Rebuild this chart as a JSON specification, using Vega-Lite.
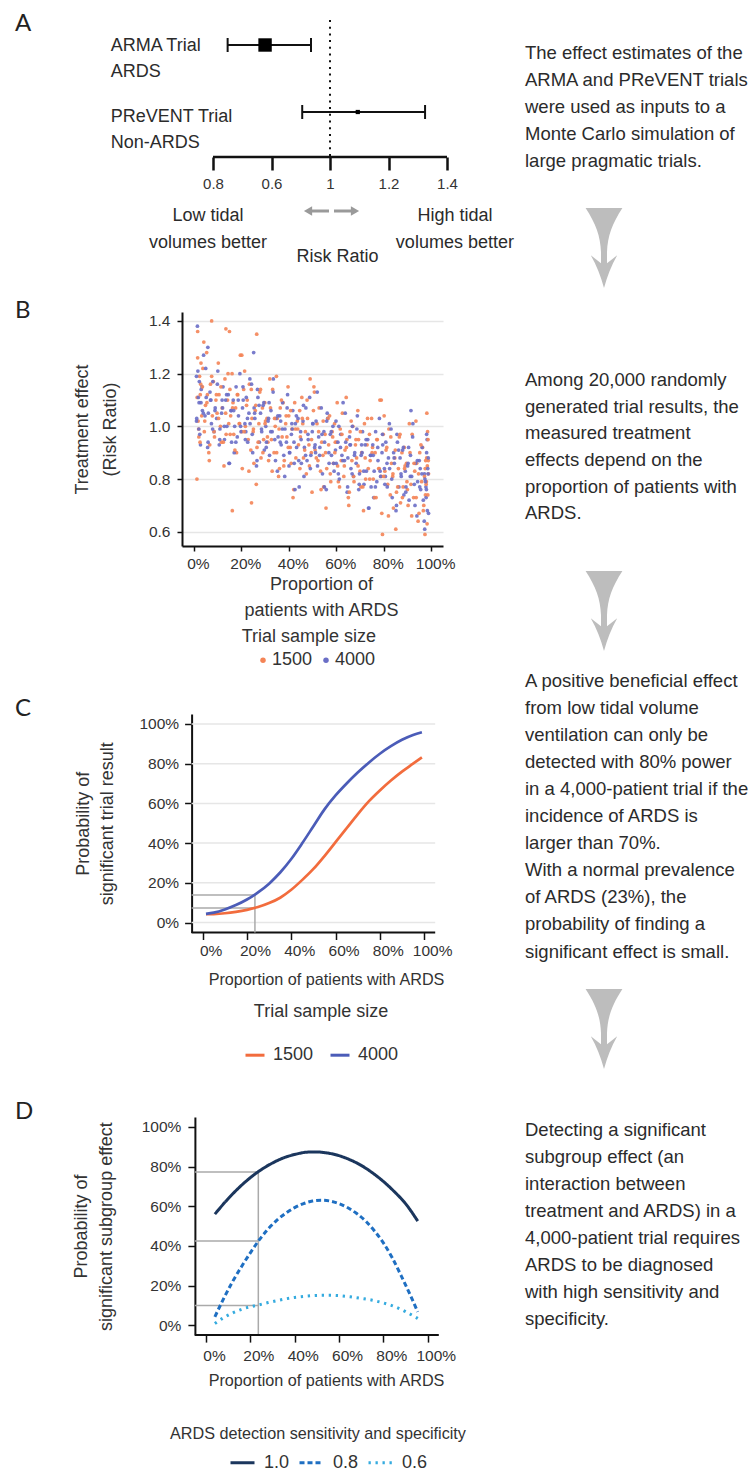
{
  "$schema": "https://vega.github.io/schema/vega-lite/v6.json",
  "background": "white",
  "padding": {"left": 14, "top": 0, "right": 0, "bottom": 0},
  "config": {
    "font": "Liberation Sans",
    "view": {"stroke": null},
    "axis": {"labelColor": "#333", "titleColor": "#333", "titleFontWeight": "normal", "domainColor": "#111", "tickColor": "#111", "labelFlush": false, "labelOverlap": false},
    "legend": {"labelColor": "#333", "titleColor": "#333", "titleFontWeight": "normal"}
  },
  "spacing": 0,
  "resolve": {"scale": {"color": "independent", "strokeDash": "independent"}, "legend": {"color": "independent", "strokeDash": "independent"}},
  "hconcat": [
    {
      "columns": 1,
      "align": "none",
      "spacing": 26,
      "resolve": {"scale": {"color": "independent", "strokeDash": "independent"}, "legend": {"color": "independent", "strokeDash": "independent"}},
      "concat": [
        {
          "columns": 1,
          "align": "none",
          "spacing": 32,
          "resolve": {"scale": {"color": "independent"}, "legend": {"color": "independent"}},
          "concat": [
            {
              "width": 265,
              "height": 157,
              "layer": [
                {
                  "data": {"values": [{}]},
                  "mark": {"type": "rule", "strokeDash": [2, 4.7], "strokeWidth": 2, "color": "#111"},
                  "encoding": {
                    "x": {"datum": 1, "type": "quantitative", "scale": {"domain": [0.494, 1.4], "nice": false, "zero": false},
                      "axis": {"values": [0.6, 0.8, 1, 1.2, 1.4], "labelExpr": "datum.value == 0.6 ? '0.8' : datum.value == 0.8 ? '0.6' : datum.value == 1 ? '1' : format(datum.value, '.1f')", "domain": false, "tickWidth": 2.5, "tickSize": 13, "labelFontSize": 15, "labelPadding": 6, "grid": false, "title": null}},
                    "y": {"datum": 20, "type": "quantitative", "scale": {"domain": [0, 157], "reverse": true, "nice": false, "zero": false}, "axis": null},
                    "y2": {"datum": 157}
                  }
                },
                {
                  "data": {"values": [{"a": 0.6, "b": 1.4, "row": 157}]},
                  "mark": {"type": "rule", "strokeWidth": 2.5, "color": "#111"},
                  "encoding": {
                    "x": {"field": "a", "type": "quantitative"},
                    "x2": {"field": "b"},
                    "y": {"field": "row", "type": "quantitative", "axis": null}
                  }
                },
                {
                  "data": {"name": "forest"},
                  "mark": {"type": "rule", "strokeWidth": 2, "color": "#111"},
                  "encoding": {
                    "x": {"field": "lo", "type": "quantitative"},
                    "x2": {"field": "hi"},
                    "y": {"field": "row", "type": "quantitative", "axis": null}
                  }
                },
                {
                  "data": {"name": "forest"},
                  "mark": {"type": "point", "shape": "M0,-1L0,1", "size": 196, "filled": false, "strokeWidth": 2, "color": "#111", "opacity": 1},
                  "encoding": {
                    "x": {"field": "lo", "type": "quantitative"},
                    "y": {"field": "row", "type": "quantitative", "axis": null}
                  }
                },
                {
                  "data": {"name": "forest"},
                  "mark": {"type": "point", "shape": "M0,-1L0,1", "size": 196, "filled": false, "strokeWidth": 2, "color": "#111", "opacity": 1},
                  "encoding": {
                    "x": {"field": "hi", "type": "quantitative"},
                    "y": {"field": "row", "type": "quantitative", "axis": null}
                  }
                },
                {
                  "data": {"name": "forest"},
                  "transform": [{"filter": "datum.trial == 'ARMA'"}],
                  "mark": {"type": "point", "shape": "square", "size": 180, "filled": true, "color": "#000", "opacity": 1},
                  "encoding": {
                    "x": {"field": "est", "type": "quantitative"},
                    "y": {"field": "row", "type": "quantitative", "axis": null}
                  }
                },
                {
                  "data": {"name": "forest"},
                  "transform": [{"filter": "datum.trial == 'PReVENT'"}],
                  "mark": {"type": "point", "shape": "square", "size": 18, "filled": true, "color": "#000", "opacity": 1},
                  "encoding": {
                    "x": {"field": "est", "type": "quantitative"},
                    "y": {"field": "row", "type": "quantitative", "axis": null}
                  }
                },
                {
                  "data": {"name": "rowlabs"},
                  "mark": {"type": "text", "align": "left", "baseline": "middle", "fontSize": 18, "color": "#2b2b2b"},
                  "encoding": {
                    "x": {"field": "x", "type": "quantitative"},
                    "y": {"field": "row", "type": "quantitative", "axis": null},
                    "text": {"field": "t"}
                  }
                },
                {
                  "data": {"name": "notesA"},
                  "mark": {"type": "text", "align": "center", "baseline": "middle", "fontSize": 18, "color": "#2b2b2b"},
                  "encoding": {
                    "x": {"field": "x", "type": "quantitative"},
                    "y": {"field": "row", "type": "quantitative", "axis": null},
                    "text": {"field": "t"}
                  }
                },
                {
                  "data": {"name": "arrA"},
                  "mark": {"type": "rule", "strokeWidth": 3, "color": "#9a9a9a"},
                  "encoding": {
                    "x": {"field": "a", "type": "quantitative"},
                    "x2": {"field": "b"},
                    "y": {"field": "row", "type": "quantitative", "axis": null}
                  }
                },
                {
                  "data": {"name": "arrA"},
                  "transform": [{"filter": "datum.d == 'l'"}],
                  "mark": {"type": "point", "shape": "triangle-left", "size": 90, "filled": true, "color": "#9a9a9a", "opacity": 1},
                  "encoding": {
                    "x": {"field": "h", "type": "quantitative"},
                    "y": {"field": "row", "type": "quantitative", "axis": null}
                  }
                },
                {
                  "data": {"name": "arrA"},
                  "transform": [{"filter": "datum.d == 'r'"}],
                  "mark": {"type": "point", "shape": "triangle-right", "size": 90, "filled": true, "color": "#9a9a9a", "opacity": 1},
                  "encoding": {
                    "x": {"field": "h", "type": "quantitative"},
                    "y": {"field": "row", "type": "quantitative", "axis": null}
                  }
                },
                {
                  "data": {"values": [{"t": "A"}]},
                  "mark": {"type": "text", "align": "left", "baseline": "middle", "fontSize": 24, "font": "Lato", "color": "#222"},
                  "encoding": {
                    "x": {"datum": -0.0769, "type": "quantitative"},
                    "y": {"datum": 23.5, "type": "quantitative", "axis": null},
                    "text": {"field": "t"}
                  }
                }
              ]
            },
            {
              "width": 261,
              "height": 234,
              "layer": [
                {
                  "data": {"name": "pts"},
                  "mark": {"type": "circle", "size": 14, "opacity": 0.9},
                  "encoding": {
                    "x": {"field": "p", "type": "quantitative", "scale": {"domain": [-5, 105], "nice": false, "zero": false},
                      "axis": {"values": [0, 20, 40, 60, 80, 100], "labelExpr": "datum.value + '%'", "domainWidth": 2, "tickSize": 5, "tickWidth": 1.5, "labelFontSize": 15.5, "labelPadding": 5, "labelOffset": 4, "grid": false, "title": ["Proportion of", "patients with ARDS"], "titleFontSize": 18, "titleLineHeight": 26.4, "titlePadding": 3.5, "titleX": 139}},
                    "y": {"field": "rr", "type": "quantitative", "scale": {"domain": [0.546, 1.434], "nice": false, "zero": false},
                      "axis": {"values": [0.6, 0.8, 1.0, 1.2, 1.4], "format": ".1f", "domainWidth": 2, "tickSize": 5, "tickWidth": 1.5, "labelFontSize": 15.5, "labelPadding": 7, "grid": true, "gridColor": "#e6e6e6", "gridWidth": 1.5, "title": ["Treatment effect", "(Risk Ratio)"], "titleFontSize": 18, "titleLineHeight": 27.5, "titlePadding": 29}},
                    "color": {"field": "n", "type": "nominal", "scale": {"domain": ["1500", "4000"], "range": ["#f48456", "#6a6ec6"]},
                      "legend": {"title": null, "orient": "none", "legendX": 72, "legendY": 339.3, "direction": "horizontal", "labelFontSize": 18, "symbolType": "circle", "symbolSize": 30, "symbolOpacity": 1, "labelOffset": 0, "columnPadding": 4}}
                  }
                },
                {
                  "data": {"values": [{"t": "B"}]},
                  "mark": {"type": "text", "align": "left", "baseline": "middle", "fontSize": 24, "font": "Lato", "color": "#222"},
                  "encoding": {
                    "x": {"datum": -75.4, "type": "quantitative"},
                    "y": {"datum": 1.4387, "type": "quantitative"},
                    "text": {"field": "t"}
                  }
                },
                {
                  "data": {"values": [{"t": "Trial sample size"}]},
                  "mark": {"type": "text", "align": "center", "baseline": "middle", "fontSize": 18, "color": "#333"},
                  "encoding": {
                    "x": {"datum": 48.5, "type": "quantitative"},
                    "y": {"datum": 0.2019, "type": "quantitative"},
                    "text": {"field": "t"}
                  }
                }
              ]
            }
          ]
        },
        {
          "columns": 1,
          "align": "none",
          "spacing": 34,
          "resolve": {"scale": {"color": "independent", "strokeDash": "independent"}, "legend": {"color": "independent", "strokeDash": "independent"}},
          "concat": [
            {
              "width": 253.2,
              "height": 218.5,
              "layer": [
                {
                  "data": {"name": "grid"},
                  "mark": {"type": "rule", "strokeWidth": 1.5, "color": "#e6e6e6"},
                  "encoding": {
                    "x": {"datum": -5, "type": "quantitative", "scale": {"domain": [-9.33, 105], "nice": false, "zero": false},
                      "axis": {"values": [0, 20, 40, 60, 80, 100], "labelExpr": "datum.value + '%'", "domain": false, "tickSize": 7, "tickWidth": 1.5, "labelFontSize": 15.5, "labelPadding": 4, "labelOffset": 8, "grid": false, "title": "Proportion of patients with ARDS", "titleFontSize": 16.2, "titlePadding": 12, "titleX": 144}},
                    "x2": {"datum": 105},
                    "y": {"field": "v", "type": "quantitative", "scale": {"domain": [-5, 105], "nice": false, "zero": false},
                      "axis": {"values": [0, 20, 40, 60, 80, 100], "labelExpr": "datum.value + '%'", "offset": -9.6, "domainWidth": 2, "tickSize": 7, "tickWidth": 1.5, "labelFontSize": 15.5, "labelPadding": 6, "grid": false, "title": ["Probability of", "significant trial result"], "titleFontSize": 18, "titleLineHeight": 24.5, "titlePadding": 22}}
                  }
                },
                {
                  "data": {"values": [{}]},
                  "mark": {"type": "rule", "strokeWidth": 2, "color": "#111"},
                  "encoding": {
                    "x": {"datum": -5, "type": "quantitative"},
                    "x2": {"datum": 105},
                    "y": {"datum": -5, "type": "quantitative"}
                  }
                },
                {
                  "data": {"name": "refC"},
                  "mark": {"type": "rule", "strokeWidth": 1.5, "color": "#aaaaaa"},
                  "encoding": {
                    "x": {"field": "x1", "type": "quantitative"},
                    "x2": {"field": "x2"},
                    "y": {"field": "y1", "type": "quantitative"},
                    "y2": {"field": "y2"}
                  }
                },
                {
                  "data": {"name": "power"},
                  "mark": {"type": "line", "strokeWidth": 2.7, "interpolate": "monotone"},
                  "encoding": {
                    "x": {"field": "p", "type": "quantitative"},
                    "y": {"field": "pw", "type": "quantitative"},
                    "color": {"field": "n", "type": "nominal", "scale": {"domain": ["1500", "4000"], "range": ["#f26c3d", "#4b5cb8"]},
                      "legend": {"title": "Trial sample size", "orient": "none", "legendX": 62, "legendY": 288.5, "direction": "horizontal", "titleAnchor": "middle", "titleFontSize": 18, "titlePadding": 23.7, "labelFontSize": 18, "symbolType": "stroke", "symbolSize": 361, "symbolStrokeWidth": 3, "labelOffset": 7, "columnPadding": 10}}
                  }
                },
                {
                  "data": {"values": [{"t": "C"}]},
                  "mark": {"type": "text", "align": "left", "baseline": "middle", "fontSize": 24, "font": "Lato", "color": "#222"},
                  "encoding": {
                    "x": {"datum": -84.7, "type": "quantitative"},
                    "y": {"datum": 107.65, "type": "quantitative"},
                    "text": {"field": "t"}
                  }
                }
              ]
            },
            {
              "width": 256.8,
              "height": 218.1,
              "layer": [
                {
                  "data": {"name": "refD"},
                  "mark": {"type": "rule", "strokeWidth": 1.5, "color": "#aaaaaa"},
                  "encoding": {
                    "x": {"field": "x1", "type": "quantitative", "scale": {"domain": [-10.82, 105], "nice": false, "zero": false},
                      "axis": {"values": [0, 20, 40, 60, 80, 100], "labelExpr": "datum.value + '%'", "domain": false, "tickSize": 7, "tickWidth": 1.5, "labelFontSize": 15.5, "labelPadding": 6, "labelOffset": 8, "grid": false, "title": "Proportion of patients with ARDS", "titleFontSize": 16.2, "titlePadding": 9, "titleX": 144}},
                    "x2": {"field": "x2"},
                    "y": {"field": "y1", "type": "quantitative", "scale": {"domain": [-5, 105], "nice": false, "zero": false},
                      "axis": {"values": [0, 20, 40, 60, 80, 100], "labelExpr": "datum.value + '%'", "offset": -12.9, "domainWidth": 2, "tickSize": 7, "tickWidth": 1.5, "labelFontSize": 15.5, "labelPadding": 7, "grid": false, "title": ["Probability of", "significant subgroup effect"], "titleFontSize": 18, "titleLineHeight": 25, "titlePadding": 25.5}},
                    "y2": {"field": "y2"}
                  }
                },
                {
                  "data": {"values": [{}]},
                  "mark": {"type": "rule", "strokeWidth": 2, "color": "#111"},
                  "encoding": {
                    "x": {"datum": -5, "type": "quantitative"},
                    "x2": {"datum": 105},
                    "y": {"datum": -5, "type": "quantitative"}
                  }
                },
                {
                  "data": {"name": "sub"},
                  "mark": {"type": "line", "strokeWidth": 3, "interpolate": "monotone"},
                  "encoding": {
                    "x": {"field": "p", "type": "quantitative"},
                    "y": {"field": "pw", "type": "quantitative"},
                    "color": {"field": "s", "type": "nominal", "scale": {"domain": ["1.0", "0.8", "0.6"], "range": ["#1b365d", "#1f6fc2", "#35abdf"]},
                      "legend": {"title": null, "orient": "none", "legendX": 47, "legendY": 332, "direction": "horizontal", "labelFontSize": 18, "symbolType": "stroke", "symbolSize": 576, "symbolStrokeWidth": 3, "labelOffset": 8, "columnPadding": 3}},
                    "strokeDash": {"field": "s", "type": "nominal", "scale": {"domain": ["1.0", "0.8", "0.6"], "range": [[1, 0], [5, 3], [2.3, 4.7]]},
                      "legend": {"title": null, "orient": "none", "legendX": 47, "legendY": 332, "direction": "horizontal", "labelFontSize": 18, "symbolType": "stroke", "symbolSize": 576, "symbolStrokeWidth": 3, "labelOffset": 8, "columnPadding": 3}}
                  }
                },
                {
                  "data": {"values": [{"t": "D"}]},
                  "mark": {"type": "text", "align": "left", "baseline": "middle", "fontSize": 24, "font": "Lato", "color": "#222"},
                  "encoding": {
                    "x": {"datum": -86.15, "type": "quantitative"},
                    "y": {"datum": 107.56, "type": "quantitative"},
                    "text": {"field": "t"}
                  }
                },
                {
                  "data": {"values": [{"t": "ARDS detection sensitivity and specificity"}]},
                  "mark": {"type": "text", "align": "center", "baseline": "middle", "fontSize": 16.2, "color": "#333"},
                  "encoding": {
                    "x": {"datum": 50.5, "type": "quantitative"},
                    "y": {"datum": -54.97, "type": "quantitative"},
                    "text": {"field": "t"}
                  }
                }
              ]
            }
          ]
        }
      ]
    },
    {
      "width": 240,
      "height": 1471,
      "layer": [
        {
          "data": {"name": "notes"},
          "mark": {"type": "text", "align": "left", "baseline": "middle", "fontSize": 18.5, "color": "#2b2b2b"},
          "encoding": {
            "x": {"datum": 11, "type": "quantitative", "scale": {"domain": [0, 240], "nice": false, "zero": false}, "axis": null},
            "y": {"field": "yy", "type": "quantitative", "scale": {"domain": [0, 1471], "reverse": true, "nice": false, "zero": false}, "axis": null},
            "text": {"field": "t"}
          }
        },
        {
          "data": {"name": "arrows"},
          "mark": {"type": "point", "shape": "M-0.46,-1L0.46,-1C0.2,-0.6 0.09,-0.3 0.075,0.1L0.075,0.38L0.33,0.18Q0.12,0.55 0,1Q-0.12,0.55 -0.33,0.18L-0.075,0.38L-0.075,0.1C-0.09,-0.3 -0.2,-0.6 -0.46,-1Z", "size": 6400, "filled": true, "color": "#bdbdbd", "opacity": 1, "strokeWidth": 0},
          "encoding": {
            "x": {"datum": 90, "type": "quantitative"},
            "y": {"field": "yy", "type": "quantitative"}
          }
        }
      ]
    }
  ],
  "datasets": {
    "forest": [
      {"trial": "ARMA", "lo": 0.65, "est": 0.778, "hi": 0.935, "row": 45},
      {"trial": "PReVENT", "lo": 0.905, "est": 1.095, "hi": 1.325, "row": 112}
    ],
    "rowlabs": [
      {"t": "ARMA Trial", "x": 0.25, "row": 46},
      {"t": "ARDS", "x": 0.25, "row": 72},
      {"t": "PReVENT Trial", "x": 0.25, "row": 117},
      {"t": "Non-ARDS", "x": 0.25, "row": 143}
    ],
    "notesA": [
      {"t": "Low tidal", "x": 0.583, "row": 216},
      {"t": "volumes better", "x": 0.583, "row": 242.5},
      {"t": "High tidal", "x": 1.427, "row": 216},
      {"t": "volumes better", "x": 1.427, "row": 242.5},
      {"t": "Risk Ratio", "x": 1.026, "row": 257}
    ],
    "arrA": [
      {"d": "l", "a": 0.9966, "b": 0.925, "h": 0.9248, "row": 211},
      {"d": "r", "a": 1.0137, "b": 1.085, "h": 1.0855, "row": 211}
    ],
    "grid": [{"v": 0}, {"v": 20}, {"v": 40}, {"v": 60}, {"v": 80}, {"v": 100}],
    "refC": [
      {"x1": -5, "x2": 23.6, "y1": 13.9, "y2": 13.9},
      {"x1": -5, "x2": 23.6, "y1": 7.3, "y2": 7.3},
      {"x1": 23.6, "x2": 23.6, "y1": -5, "y2": 13.9}
    ],
    "refD": [
      {"x1": -5, "x2": 23.6, "y1": 77.3, "y2": 77.3},
      {"x1": -5, "x2": 23.6, "y1": 42.5, "y2": 42.5},
      {"x1": -5, "x2": 23.6, "y1": 9.9, "y2": 9.9},
      {"x1": 23.6, "x2": 23.6, "y1": -5, "y2": 77.3}
    ],
    "power": [
      {"n": "1500", "p": 1.5, "pw": 4.2}, {"n": "1500", "p": 5, "pw": 4.3}, {"n": "1500", "p": 10, "pw": 4.7}, {"n": "1500", "p": 15, "pw": 5.4},
      {"n": "1500", "p": 20, "pw": 6.4}, {"n": "1500", "p": 25, "pw": 7.8}, {"n": "1500", "p": 30, "pw": 9.8}, {"n": "1500", "p": 35, "pw": 12.5},
      {"n": "1500", "p": 40, "pw": 16.5}, {"n": "1500", "p": 45, "pw": 21.5}, {"n": "1500", "p": 50, "pw": 27}, {"n": "1500", "p": 55, "pw": 33.5},
      {"n": "1500", "p": 60, "pw": 40.5}, {"n": "1500", "p": 65, "pw": 47.5}, {"n": "1500", "p": 70, "pw": 54.5}, {"n": "1500", "p": 75, "pw": 61},
      {"n": "1500", "p": 80, "pw": 66.5}, {"n": "1500", "p": 85, "pw": 71.5}, {"n": "1500", "p": 90, "pw": 76}, {"n": "1500", "p": 95, "pw": 80},
      {"n": "1500", "p": 99, "pw": 83.2},
      {"n": "4000", "p": 1.5, "pw": 4.4}, {"n": "4000", "p": 5, "pw": 5.0}, {"n": "4000", "p": 10, "pw": 6.6}, {"n": "4000", "p": 15, "pw": 8.8},
      {"n": "4000", "p": 20, "pw": 11.6}, {"n": "4000", "p": 25, "pw": 15.2}, {"n": "4000", "p": 30, "pw": 19.6}, {"n": "4000", "p": 35, "pw": 25.2},
      {"n": "4000", "p": 40, "pw": 32}, {"n": "4000", "p": 45, "pw": 40}, {"n": "4000", "p": 50, "pw": 48.5}, {"n": "4000", "p": 55, "pw": 57},
      {"n": "4000", "p": 60, "pw": 64}, {"n": "4000", "p": 65, "pw": 70}, {"n": "4000", "p": 70, "pw": 75.5}, {"n": "4000", "p": 75, "pw": 80.5},
      {"n": "4000", "p": 80, "pw": 85}, {"n": "4000", "p": 85, "pw": 88.8}, {"n": "4000", "p": 90, "pw": 92}, {"n": "4000", "p": 95, "pw": 94.4},
      {"n": "4000", "p": 99, "pw": 95.8}
    ],
    "sub": [
      {"s": "1.0", "p": 4, "pw": 56.0}, {"s": "1.0", "p": 10, "pw": 63.8}, {"s": "1.0", "p": 15, "pw": 69.5}, {"s": "1.0", "p": 20, "pw": 74.4},
      {"s": "1.0", "p": 25, "pw": 78.5}, {"s": "1.0", "p": 30, "pw": 81.8}, {"s": "1.0", "p": 35, "pw": 84.4}, {"s": "1.0", "p": 40, "pw": 86.1},
      {"s": "1.0", "p": 45, "pw": 87.2}, {"s": "1.0", "p": 49, "pw": 87.4}, {"s": "1.0", "p": 55, "pw": 86.8}, {"s": "1.0", "p": 60, "pw": 85.5},
      {"s": "1.0", "p": 65, "pw": 83.4}, {"s": "1.0", "p": 70, "pw": 80.6}, {"s": "1.0", "p": 75, "pw": 76.9}, {"s": "1.0", "p": 80, "pw": 72.5},
      {"s": "1.0", "p": 85, "pw": 67.3}, {"s": "1.0", "p": 90, "pw": 61.3}, {"s": "1.0", "p": 95.5, "pw": 52.5},
      {"s": "0.8", "p": 4, "pw": 4.2}, {"s": "0.8", "p": 8, "pw": 13.5}, {"s": "0.8", "p": 12, "pw": 22}, {"s": "0.8", "p": 16, "pw": 29.5},
      {"s": "0.8", "p": 20, "pw": 36.5}, {"s": "0.8", "p": 24, "pw": 43}, {"s": "0.8", "p": 28, "pw": 48.5}, {"s": "0.8", "p": 32, "pw": 53},
      {"s": "0.8", "p": 36, "pw": 56.5}, {"s": "0.8", "p": 40, "pw": 59.3}, {"s": "0.8", "p": 44, "pw": 61.3}, {"s": "0.8", "p": 48, "pw": 62.6},
      {"s": "0.8", "p": 52, "pw": 63}, {"s": "0.8", "p": 56, "pw": 62.6}, {"s": "0.8", "p": 60, "pw": 61.3}, {"s": "0.8", "p": 64, "pw": 59.2},
      {"s": "0.8", "p": 68, "pw": 56.3}, {"s": "0.8", "p": 72, "pw": 52.5}, {"s": "0.8", "p": 76, "pw": 47.5}, {"s": "0.8", "p": 80, "pw": 41.5},
      {"s": "0.8", "p": 84, "pw": 34}, {"s": "0.8", "p": 88, "pw": 25}, {"s": "0.8", "p": 92, "pw": 15.5}, {"s": "0.8", "p": 95.5, "pw": 6.7},
      {"s": "0.6", "p": 4, "pw": 0.8}, {"s": "0.6", "p": 8, "pw": 3.8}, {"s": "0.6", "p": 12, "pw": 6.2}, {"s": "0.6", "p": 16, "pw": 8.0},
      {"s": "0.6", "p": 20, "pw": 9.3}, {"s": "0.6", "p": 24, "pw": 10.3}, {"s": "0.6", "p": 28, "pw": 11.4}, {"s": "0.6", "p": 32, "pw": 12.4},
      {"s": "0.6", "p": 36, "pw": 13.3}, {"s": "0.6", "p": 40, "pw": 14.0}, {"s": "0.6", "p": 45, "pw": 14.6}, {"s": "0.6", "p": 50, "pw": 15.0},
      {"s": "0.6", "p": 55, "pw": 15.1}, {"s": "0.6", "p": 60, "pw": 14.9}, {"s": "0.6", "p": 65, "pw": 14.3}, {"s": "0.6", "p": 70, "pw": 13.5},
      {"s": "0.6", "p": 75, "pw": 12.6}, {"s": "0.6", "p": 80, "pw": 11.2}, {"s": "0.6", "p": 85, "pw": 9.4}, {"s": "0.6", "p": 90, "pw": 6.8},
      {"s": "0.6", "p": 95.5, "pw": 3.4}
    ],
    "notes": [
      {"t": "The effect estimates of the", "yy": 53},
      {"t": "ARMA and PReVENT trials", "yy": 80},
      {"t": "were used as inputs to a", "yy": 107},
      {"t": "Monte Carlo simulation of", "yy": 134},
      {"t": "large pragmatic trials.", "yy": 161},
      {"t": "Among 20,000 randomly", "yy": 380},
      {"t": "generated trial results, the", "yy": 407},
      {"t": "measured treatment", "yy": 433},
      {"t": "effects depend on the", "yy": 460},
      {"t": "proportion of patients with", "yy": 487},
      {"t": "ARDS.", "yy": 513},
      {"t": "A positive beneficial effect", "yy": 681},
      {"t": "from low tidal volume", "yy": 708},
      {"t": "ventilation can only be", "yy": 735},
      {"t": "detected with 80% power", "yy": 762},
      {"t": "in a 4,000-patient trial if the", "yy": 789},
      {"t": "incidence of ARDS is", "yy": 816},
      {"t": "larger than 70%.", "yy": 843},
      {"t": "With a normal prevalence", "yy": 870},
      {"t": "of ARDS (23%), the", "yy": 897},
      {"t": "probability of finding a", "yy": 924},
      {"t": "significant effect is small.", "yy": 952},
      {"t": "Detecting a significant", "yy": 1130},
      {"t": "subgroup effect (an", "yy": 1157},
      {"t": "interaction between", "yy": 1184},
      {"t": "treatment and ARDS) in a", "yy": 1211},
      {"t": "4,000-patient trial requires", "yy": 1238},
      {"t": "ARDS to be diagnosed", "yy": 1265},
      {"t": "with high sensitivity and", "yy": 1292},
      {"t": "specificity.", "yy": 1319}
    ],
    "arrows": [
      {"yy": 248},
      {"yy": 611},
      {"yy": 1029}
    ],
    "pts": [
      {"n":"1500","p":1.4,"rr":1.11},{"n":"1500","p":2.1,"rr":0.96},{"n":"1500","p":2.9,"rr":1.16},{"n":"1500","p":3.3,"rr":1.04},{"n":"1500","p":3.8,"rr":1.22},
      {"n":"1500","p":4.4,"rr":0.98},{"n":"1500","p":4.9,"rr":1.08},{"n":"1500","p":5.4,"rr":1.28},{"n":"1500","p":1.8,"rr":1.02},{"n":"1500","p":5.7,"rr":1.12},
      {"n":"4000","p":1.2,"rr":1.03},{"n":"4000","p":1.9,"rr":1.11},{"n":"4000","p":2.5,"rr":0.97},{"n":"4000","p":3.1,"rr":1.14},{"n":"4000","p":3.6,"rr":1.06},
      {"n":"4000","p":4.1,"rr":1.27},{"n":"4000","p":4.7,"rr":1.04},{"n":"4000","p":5.2,"rr":1.11},{"n":"4000","p":5.8,"rr":0.92},{"n":"4000","p":2.3,"rr":1.17},
      {"n":"1500","p":6.3,"rr":0.90},{"n":"1500","p":7.0,"rr":1.16},{"n":"1500","p":7.8,"rr":1.04},{"n":"1500","p":8.2,"rr":1.17},{"n":"1500","p":8.7,"rr":0.96},
      {"n":"1500","p":9.3,"rr":1.10},{"n":"1500","p":9.8,"rr":1.05},{"n":"1500","p":10.3,"rr":1.24},{"n":"1500","p":6.7,"rr":0.93},{"n":"1500","p":10.6,"rr":1.12},
      {"n":"4000","p":6.1,"rr":1.05},{"n":"4000","p":6.8,"rr":1.13},{"n":"4000","p":7.4,"rr":1.01},{"n":"4000","p":8.0,"rr":1.17},{"n":"4000","p":8.5,"rr":0.98},
      {"n":"4000","p":9.0,"rr":1.07},{"n":"4000","p":9.6,"rr":1.03},{"n":"4000","p":10.1,"rr":1.21},{"n":"4000","p":10.7,"rr":0.93},{"n":"4000","p":7.2,"rr":1.10},
      {"n":"1500","p":11.2,"rr":1.00},{"n":"1500","p":11.9,"rr":1.07},{"n":"1500","p":12.7,"rr":0.85},{"n":"1500","p":13.1,"rr":1.18},{"n":"1500","p":13.6,"rr":0.97},
      {"n":"1500","p":14.2,"rr":1.10},{"n":"1500","p":14.7,"rr":1.01},{"n":"1500","p":15.2,"rr":1.14},{"n":"1500","p":11.6,"rr":0.94},{"n":"1500","p":15.5,"rr":1.04},
      {"n":"4000","p":11.0,"rr":0.99},{"n":"4000","p":11.7,"rr":1.05},{"n":"4000","p":12.3,"rr":1.15},{"n":"4000","p":12.9,"rr":0.95},{"n":"4000","p":13.4,"rr":1.10},
      {"n":"4000","p":13.9,"rr":1.00},{"n":"4000","p":14.5,"rr":1.12},{"n":"4000","p":15.0,"rr":0.86},{"n":"4000","p":15.6,"rr":1.06},{"n":"4000","p":12.1,"rr":1.07},
      {"n":"1500","p":16.1,"rr":1.20},{"n":"1500","p":16.8,"rr":0.97},{"n":"1500","p":17.6,"rr":1.07},{"n":"1500","p":18.0,"rr":0.90},{"n":"1500","p":18.5,"rr":1.12},
      {"n":"1500","p":19.1,"rr":1.01},{"n":"1500","p":19.6,"rr":1.27},{"n":"1500","p":20.1,"rr":0.98},{"n":"1500","p":16.5,"rr":1.09},{"n":"1500","p":20.4,"rr":0.84},
      {"n":"4000","p":15.9,"rr":0.94},{"n":"4000","p":16.6,"rr":1.10},{"n":"4000","p":17.2,"rr":1.00},{"n":"4000","p":17.8,"rr":1.15},{"n":"4000","p":18.3,"rr":0.96},
      {"n":"4000","p":18.8,"rr":1.04},{"n":"4000","p":19.4,"rr":1.20},{"n":"4000","p":19.9,"rr":0.98},{"n":"4000","p":20.5,"rr":1.07},{"n":"4000","p":17.0,"rr":0.90},
      {"n":"1500","p":21.0,"rr":1.14},{"n":"1500","p":21.7,"rr":1.00},{"n":"1500","p":22.5,"rr":1.10},{"n":"1500","p":22.9,"rr":0.95},{"n":"1500","p":23.4,"rr":1.16},
      {"n":"1500","p":24.0,"rr":0.91},{"n":"1500","p":24.5,"rr":1.03},{"n":"1500","p":25.0,"rr":0.98},{"n":"1500","p":21.4,"rr":1.21},{"n":"1500","p":25.3,"rr":0.86},
      {"n":"4000","p":20.8,"rr":1.10},{"n":"4000","p":21.5,"rr":1.01},{"n":"4000","p":22.1,"rr":1.11},{"n":"4000","p":22.7,"rr":0.94},{"n":"4000","p":23.2,"rr":1.05},
      {"n":"4000","p":23.7,"rr":1.01},{"n":"4000","p":24.3,"rr":1.16},{"n":"4000","p":24.8,"rr":0.90},{"n":"4000","p":25.4,"rr":1.07},{"n":"4000","p":21.9,"rr":0.98},
      {"n":"1500","p":25.9,"rr":1.06},{"n":"1500","p":26.6,"rr":0.92},{"n":"1500","p":27.4,"rr":1.01},{"n":"1500","p":27.8,"rr":1.13},{"n":"1500","p":28.3,"rr":0.88},
      {"n":"1500","p":28.9,"rr":1.07},{"n":"1500","p":29.4,"rr":0.95},{"n":"1500","p":29.9,"rr":1.09},{"n":"1500","p":26.3,"rr":0.78},{"n":"1500","p":30.2,"rr":1.02},
      {"n":"4000","p":25.7,"rr":1.03},{"n":"4000","p":26.4,"rr":0.85},{"n":"4000","p":27.0,"rr":1.11},{"n":"4000","p":27.6,"rr":0.94},{"n":"4000","p":28.1,"rr":1.05},
      {"n":"4000","p":28.6,"rr":0.98},{"n":"4000","p":29.2,"rr":1.08},{"n":"4000","p":29.7,"rr":0.91},{"n":"4000","p":30.3,"rr":1.00},{"n":"4000","p":26.8,"rr":1.14},
      {"n":"1500","p":30.8,"rr":1.03},{"n":"1500","p":31.5,"rr":0.87},{"n":"1500","p":32.3,"rr":1.07},{"n":"1500","p":32.7,"rr":0.95},{"n":"1500","p":33.2,"rr":1.14},
      {"n":"1500","p":33.8,"rr":0.90},{"n":"1500","p":34.3,"rr":1.00},{"n":"1500","p":34.8,"rr":1.19},{"n":"1500","p":31.2,"rr":0.94},{"n":"1500","p":35.1,"rr":1.03},
      {"n":"4000","p":30.6,"rr":0.94},{"n":"4000","p":31.3,"rr":1.02},{"n":"4000","p":31.9,"rr":0.89},{"n":"4000","p":32.5,"rr":1.06},{"n":"4000","p":33.0,"rr":0.98},
      {"n":"4000","p":33.5,"rr":1.18},{"n":"4000","p":34.1,"rr":0.95},{"n":"4000","p":34.6,"rr":1.03},{"n":"4000","p":35.2,"rr":0.83},{"n":"4000","p":31.7,"rr":1.09},
      {"n":"1500","p":35.7,"rr":0.81},{"n":"1500","p":36.4,"rr":1.07},{"n":"1500","p":37.2,"rr":0.96},{"n":"1500","p":37.6,"rr":1.09},{"n":"1500","p":38.1,"rr":0.87},
      {"n":"1500","p":38.7,"rr":1.01},{"n":"1500","p":39.2,"rr":0.96},{"n":"1500","p":39.7,"rr":1.15},{"n":"1500","p":36.1,"rr":0.84},{"n":"1500","p":40.0,"rr":1.04},
      {"n":"4000","p":35.5,"rr":0.96},{"n":"4000","p":36.2,"rr":1.04},{"n":"4000","p":36.8,"rr":0.93},{"n":"4000","p":37.4,"rr":1.09},{"n":"4000","p":37.9,"rr":0.89},
      {"n":"4000","p":38.4,"rr":0.99},{"n":"4000","p":39.0,"rr":0.94},{"n":"4000","p":39.5,"rr":1.12},{"n":"4000","p":40.1,"rr":0.85},{"n":"4000","p":36.6,"rr":1.02},
      {"n":"1500","p":40.6,"rr":0.92},{"n":"1500","p":41.3,"rr":0.99},{"n":"1500","p":42.1,"rr":0.76},{"n":"1500","p":42.5,"rr":1.09},{"n":"1500","p":43.0,"rr":0.88},
      {"n":"1500","p":43.6,"rr":1.02},{"n":"1500","p":44.1,"rr":0.93},{"n":"1500","p":44.6,"rr":1.06},{"n":"1500","p":41.0,"rr":0.86},{"n":"1500","p":44.9,"rr":0.96},
      {"n":"4000","p":40.4,"rr":0.90},{"n":"4000","p":41.1,"rr":0.97},{"n":"4000","p":41.7,"rr":1.06},{"n":"4000","p":42.3,"rr":0.86},{"n":"4000","p":42.8,"rr":1.01},
      {"n":"4000","p":43.3,"rr":0.92},{"n":"4000","p":43.9,"rr":1.03},{"n":"4000","p":44.4,"rr":0.77},{"n":"4000","p":45.0,"rr":0.98},{"n":"4000","p":41.5,"rr":0.99},
      {"n":"1500","p":45.5,"rr":1.11},{"n":"1500","p":46.2,"rr":0.88},{"n":"1500","p":47.0,"rr":0.98},{"n":"1500","p":47.4,"rr":0.82},{"n":"1500","p":47.9,"rr":1.03},
      {"n":"1500","p":48.5,"rr":0.93},{"n":"1500","p":49.0,"rr":1.18},{"n":"1500","p":49.5,"rr":0.90},{"n":"1500","p":45.9,"rr":1.01},{"n":"1500","p":49.8,"rr":0.75},
      {"n":"4000","p":45.3,"rr":0.86},{"n":"4000","p":46.0,"rr":1.02},{"n":"4000","p":46.6,"rr":0.92},{"n":"4000","p":47.2,"rr":1.07},{"n":"4000","p":47.7,"rr":0.87},
      {"n":"4000","p":48.2,"rr":0.95},{"n":"4000","p":48.8,"rr":1.11},{"n":"4000","p":49.3,"rr":0.89},{"n":"4000","p":49.9,"rr":0.98},{"n":"4000","p":46.4,"rr":0.81},
      {"n":"1500","p":50.4,"rr":1.06},{"n":"1500","p":51.1,"rr":0.91},{"n":"1500","p":51.9,"rr":1.01},{"n":"1500","p":52.3,"rr":0.87},{"n":"1500","p":52.8,"rr":1.07},
      {"n":"1500","p":53.4,"rr":0.83},{"n":"1500","p":53.9,"rr":0.94},{"n":"1500","p":54.4,"rr":0.89},{"n":"1500","p":50.8,"rr":1.13},{"n":"1500","p":54.7,"rr":0.77},
      {"n":"4000","p":50.2,"rr":1.01},{"n":"4000","p":50.9,"rr":0.92},{"n":"4000","p":51.5,"rr":1.02},{"n":"4000","p":52.1,"rr":0.85},{"n":"4000","p":52.6,"rr":0.96},
      {"n":"4000","p":53.1,"rr":0.92},{"n":"4000","p":53.7,"rr":1.07},{"n":"4000","p":54.2,"rr":0.82},{"n":"4000","p":54.8,"rr":0.98},{"n":"4000","p":51.3,"rr":0.90},
      {"n":"1500","p":55.3,"rr":0.97},{"n":"1500","p":56.0,"rr":0.84},{"n":"1500","p":56.8,"rr":0.93},{"n":"1500","p":57.2,"rr":1.04},{"n":"1500","p":57.7,"rr":0.79},
      {"n":"1500","p":58.3,"rr":0.98},{"n":"1500","p":58.8,"rr":0.86},{"n":"1500","p":59.3,"rr":1.01},{"n":"1500","p":55.7,"rr":0.69},{"n":"1500","p":59.6,"rr":0.94},
      {"n":"4000","p":55.1,"rr":0.94},{"n":"4000","p":55.8,"rr":0.76},{"n":"4000","p":56.4,"rr":1.03},{"n":"4000","p":57.0,"rr":0.86},{"n":"4000","p":57.5,"rr":0.97},
      {"n":"4000","p":58.0,"rr":0.89},{"n":"4000","p":58.6,"rr":1.00},{"n":"4000","p":59.1,"rr":0.83},{"n":"4000","p":59.7,"rr":0.91},{"n":"4000","p":56.2,"rr":1.05},
      {"n":"1500","p":60.2,"rr":0.94},{"n":"1500","p":60.9,"rr":0.79},{"n":"1500","p":61.7,"rr":0.99},{"n":"1500","p":62.1,"rr":0.87},{"n":"1500","p":62.6,"rr":1.05},
      {"n":"1500","p":63.2,"rr":0.81},{"n":"1500","p":63.7,"rr":0.91},{"n":"1500","p":64.2,"rr":1.11},{"n":"1500","p":60.6,"rr":0.85},{"n":"1500","p":64.5,"rr":0.95},
      {"n":"4000","p":60.0,"rr":0.86},{"n":"4000","p":60.7,"rr":0.94},{"n":"4000","p":61.3,"rr":0.80},{"n":"4000","p":61.9,"rr":0.97},{"n":"4000","p":62.4,"rr":0.89},
      {"n":"4000","p":62.9,"rr":1.09},{"n":"4000","p":63.5,"rr":0.87},{"n":"4000","p":64.0,"rr":0.94},{"n":"4000","p":64.6,"rr":0.75},{"n":"4000","p":61.1,"rr":1.00},
      {"n":"1500","p":65.1,"rr":0.73},{"n":"1500","p":65.8,"rr":0.98},{"n":"1500","p":66.6,"rr":0.87},{"n":"1500","p":67.0,"rr":1.00},{"n":"1500","p":67.5,"rr":0.79},
      {"n":"1500","p":68.1,"rr":0.93},{"n":"1500","p":68.6,"rr":0.88},{"n":"1500","p":69.1,"rr":1.06},{"n":"1500","p":65.5,"rr":0.75},{"n":"1500","p":69.4,"rr":0.95},
      {"n":"4000","p":64.9,"rr":0.88},{"n":"4000","p":65.6,"rr":0.96},{"n":"4000","p":66.2,"rr":0.84},{"n":"4000","p":66.8,"rr":1.00},{"n":"4000","p":67.3,"rr":0.81},
      {"n":"4000","p":67.8,"rr":0.90},{"n":"4000","p":68.4,"rr":0.86},{"n":"4000","p":68.9,"rr":1.04},{"n":"4000","p":69.5,"rr":0.76},{"n":"4000","p":66.0,"rr":0.93},
      {"n":"1500","p":70.0,"rr":0.83},{"n":"1500","p":70.7,"rr":0.90},{"n":"1500","p":71.5,"rr":0.68},{"n":"1500","p":71.9,"rr":1.01},{"n":"1500","p":72.4,"rr":0.80},
      {"n":"1500","p":73.0,"rr":0.93},{"n":"1500","p":73.5,"rr":0.84},{"n":"1500","p":74.0,"rr":0.97},{"n":"1500","p":70.4,"rr":0.77},{"n":"1500","p":74.3,"rr":0.87},
      {"n":"4000","p":69.8,"rr":0.82},{"n":"4000","p":70.5,"rr":0.89},{"n":"4000","p":71.1,"rr":0.98},{"n":"4000","p":71.7,"rr":0.78},{"n":"4000","p":72.2,"rr":0.93},
      {"n":"4000","p":72.7,"rr":0.83},{"n":"4000","p":73.3,"rr":0.95},{"n":"4000","p":73.8,"rr":0.69},{"n":"4000","p":74.4,"rr":0.89},{"n":"4000","p":70.9,"rr":0.90},
      {"n":"1500","p":74.9,"rr":1.03},{"n":"1500","p":75.6,"rr":0.80},{"n":"1500","p":76.4,"rr":0.90},{"n":"1500","p":76.8,"rr":0.73},{"n":"1500","p":77.3,"rr":0.95},
      {"n":"1500","p":77.9,"rr":0.84},{"n":"1500","p":78.4,"rr":1.10},{"n":"1500","p":78.9,"rr":0.81},{"n":"1500","p":75.3,"rr":0.92},{"n":"1500","p":79.2,"rr":0.67},
      {"n":"4000","p":74.7,"rr":0.77},{"n":"4000","p":75.4,"rr":0.93},{"n":"4000","p":76.0,"rr":0.83},{"n":"4000","p":76.6,"rr":0.98},{"n":"4000","p":77.1,"rr":0.79},
      {"n":"4000","p":77.6,"rr":0.87},{"n":"4000","p":78.2,"rr":1.03},{"n":"4000","p":78.7,"rr":0.81},{"n":"4000","p":79.3,"rr":0.90},{"n":"4000","p":75.8,"rr":0.73},
      {"n":"1500","p":79.8,"rr":0.97},{"n":"1500","p":80.5,"rr":0.83},{"n":"1500","p":81.3,"rr":0.92},{"n":"1500","p":81.7,"rr":0.78},{"n":"1500","p":82.2,"rr":0.99},
      {"n":"1500","p":82.8,"rr":0.74},{"n":"1500","p":83.3,"rr":0.86},{"n":"1500","p":83.8,"rr":0.81},{"n":"1500","p":80.2,"rr":1.04},{"n":"1500","p":84.1,"rr":0.69},
      {"n":"4000","p":79.6,"rr":0.93},{"n":"4000","p":80.3,"rr":0.84},{"n":"4000","p":80.9,"rr":0.94},{"n":"4000","p":81.5,"rr":0.77},{"n":"4000","p":82.0,"rr":0.88},
      {"n":"4000","p":82.5,"rr":0.84},{"n":"4000","p":83.1,"rr":0.99},{"n":"4000","p":83.6,"rr":0.73},{"n":"4000","p":84.2,"rr":0.90},{"n":"4000","p":80.7,"rr":0.81},
      {"n":"1500","p":84.7,"rr":0.88},{"n":"1500","p":85.4,"rr":0.75},{"n":"1500","p":86.2,"rr":0.84},{"n":"1500","p":86.6,"rr":0.96},{"n":"1500","p":87.1,"rr":0.71},
      {"n":"1500","p":87.7,"rr":0.90},{"n":"1500","p":88.2,"rr":0.77},{"n":"1500","p":88.7,"rr":0.92},{"n":"1500","p":85.1,"rr":0.61},{"n":"1500","p":89.0,"rr":0.85},
      {"n":"4000","p":84.5,"rr":0.86},{"n":"4000","p":85.2,"rr":0.68},{"n":"4000","p":85.8,"rr":0.94},{"n":"4000","p":86.4,"rr":0.77},{"n":"4000","p":86.9,"rr":0.88},
      {"n":"4000","p":87.4,"rr":0.81},{"n":"4000","p":88.0,"rr":0.91},{"n":"4000","p":88.5,"rr":0.74},{"n":"4000","p":89.1,"rr":0.83},{"n":"4000","p":85.6,"rr":0.97},
      {"n":"1500","p":89.6,"rr":0.86},{"n":"1500","p":90.3,"rr":0.70},{"n":"1500","p":91.1,"rr":0.90},{"n":"1500","p":91.5,"rr":0.78},{"n":"1500","p":92.0,"rr":0.97},
      {"n":"1500","p":92.6,"rr":0.73},{"n":"1500","p":93.1,"rr":0.83},{"n":"1500","p":93.6,"rr":1.02},{"n":"1500","p":90.0,"rr":0.76},{"n":"1500","p":93.9,"rr":0.86},
      {"n":"4000","p":89.4,"rr":0.77},{"n":"4000","p":90.1,"rr":0.85},{"n":"4000","p":90.7,"rr":0.72},{"n":"4000","p":91.3,"rr":0.89},{"n":"4000","p":91.8,"rr":0.81},
      {"n":"4000","p":92.3,"rr":1.01},{"n":"4000","p":92.9,"rr":0.78},{"n":"4000","p":93.4,"rr":0.86},{"n":"4000","p":94.0,"rr":0.66},{"n":"4000","p":90.5,"rr":0.92},
      {"n":"1500","p":94.5,"rr":0.64},{"n":"1500","p":95.2,"rr":0.90},{"n":"1500","p":96.0,"rr":0.79},{"n":"1500","p":96.4,"rr":0.92},{"n":"1500","p":96.9,"rr":0.70},
      {"n":"1500","p":97.5,"rr":0.84},{"n":"1500","p":98.0,"rr":0.79},{"n":"1500","p":98.5,"rr":0.98},{"n":"1500","p":94.9,"rr":0.67},{"n":"1500","p":98.8,"rr":0.87},
      {"n":"4000","p":94.3,"rr":0.79},{"n":"4000","p":95.0,"rr":0.87},{"n":"4000","p":95.6,"rr":0.76},{"n":"4000","p":96.2,"rr":0.92},{"n":"4000","p":96.7,"rr":0.72},
      {"n":"4000","p":97.2,"rr":0.82},{"n":"4000","p":97.8,"rr":0.77},{"n":"4000","p":98.3,"rr":0.95},{"n":"4000","p":98.9,"rr":0.67},{"n":"4000","p":95.4,"rr":0.84},
      {"n":"1500","p":97.2,"rr":0.81},{"n":"1500","p":97.6,"rr":0.74},{"n":"1500","p":98.1,"rr":0.88},{"n":"1500","p":98.3,"rr":0.63},{"n":"1500","p":98.7,"rr":0.95},
      {"n":"1500","p":97.9,"rr":0.78},{"n":"1500","p":98.4,"rr":0.85},{"n":"1500","p":98.2,"rr":1.05},{"n":"1500","p":97.4,"rr":0.59},{"n":"1500","p":98.9,"rr":0.82},
      {"n":"4000","p":97.4,"rr":0.80},{"n":"4000","p":97.9,"rr":0.73},{"n":"4000","p":98.6,"rr":0.84},{"n":"4000","p":98.1,"rr":0.97},{"n":"4000","p":97.6,"rr":0.79},
      {"n":"4000","p":98.4,"rr":0.68},{"n":"4000","p":98.8,"rr":0.88},{"n":"4000","p":97.3,"rr":0.61},{"n":"4000","p":98.0,"rr":0.76},{"n":"4000","p":98.7,"rr":0.82},
      {"n":"1500","p":1.6,"rr":1.36},{"n":"1500","p":2.4,"rr":1.19},{"n":"1500","p":2.0,"rr":0.99},{"n":"1500","p":3.0,"rr":1.24},{"n":"1500","p":1.3,"rr":0.80},
      {"n":"1500","p":2.7,"rr":1.12},{"n":"1500","p":7.5,"rr":1.40},{"n":"1500","p":13.5,"rr":1.37},{"n":"1500","p":15.0,"rr":1.36},{"n":"1500","p":26.5,"rr":1.35},
      {"n":"1500","p":4.2,"rr":1.32},{"n":"1500","p":16.2,"rr":0.68},{"n":"1500","p":24.3,"rr":0.71},{"n":"1500","p":79.5,"rr":0.59},
      {"n":"4000","p":1.5,"rr":1.38},{"n":"4000","p":2.2,"rr":1.09},{"n":"4000","p":1.7,"rr":1.21},{"n":"4000","p":2.8,"rr":0.93},{"n":"4000","p":3.4,"rr":1.15},
      {"n":"4000","p":1.1,"rr":1.02},{"n":"4000","p":5.9,"rr":1.30},{"n":"4000","p":25.2,"rr":1.28},{"n":"4000","p":42.6,"rr":0.76},{"n":"4000","p":91.5,"rr":1.06},
      {"n":"1500","p":1.6,"rr":1.26},{"n":"1500","p":2.6,"rr":0.94},{"n":"1500","p":3.6,"rr":1.15},{"n":"1500","p":4.6,"rr":1.02},{"n":"1500","p":5.5,"rr":1.09},
      {"n":"4000","p":1.1,"rr":1.19},{"n":"4000","p":2.1,"rr":0.99},{"n":"4000","p":3.0,"rr":1.09},{"n":"4000","p":4.0,"rr":1.05},{"n":"4000","p":5.0,"rr":1.22},
      {"n":"1500","p":6.5,"rr":0.87},{"n":"1500","p":7.5,"rr":1.19},{"n":"1500","p":8.5,"rr":0.98},{"n":"1500","p":9.5,"rr":1.12},{"n":"1500","p":10.4,"rr":1.03},
      {"n":"4000","p":6.0,"rr":0.94},{"n":"4000","p":7.0,"rr":1.10},{"n":"4000","p":7.9,"rr":0.99},{"n":"4000","p":8.9,"rr":1.06},{"n":"4000","p":9.9,"rr":1.16},
      {"n":"1500","p":11.4,"rr":1.15},{"n":"1500","p":12.4,"rr":0.94},{"n":"1500","p":13.4,"rr":1.05},{"n":"1500","p":14.4,"rr":1.20},{"n":"1500","p":15.3,"rr":0.97},
      {"n":"4000","p":10.9,"rr":0.95},{"n":"4000","p":11.9,"rr":1.10},{"n":"4000","p":12.8,"rr":1.00},{"n":"4000","p":13.8,"rr":1.12},{"n":"4000","p":14.8,"rr":0.86},
      {"n":"1500","p":16.3,"rr":1.07},{"n":"1500","p":17.3,"rr":0.91},{"n":"1500","p":18.3,"rr":1.12},{"n":"1500","p":19.3,"rr":1.01},{"n":"1500","p":20.2,"rr":1.27},
      {"n":"4000","p":15.8,"rr":1.06},{"n":"4000","p":16.8,"rr":1.06},{"n":"4000","p":17.7,"rr":0.94},{"n":"4000","p":18.7,"rr":1.10},{"n":"4000","p":19.7,"rr":1.00},
      {"n":"1500","p":21.2,"rr":0.98},{"n":"1500","p":22.2,"rr":1.08},{"n":"1500","p":23.2,"rr":0.83},{"n":"1500","p":24.2,"rr":1.14},{"n":"1500","p":25.1,"rr":0.99},
      {"n":"4000","p":20.7,"rr":1.15},{"n":"4000","p":21.7,"rr":0.95},{"n":"4000","p":22.6,"rr":1.03},{"n":"4000","p":23.6,"rr":1.18},{"n":"4000","p":24.6,"rr":0.97},
      {"n":"1500","p":26.1,"rr":1.08},{"n":"1500","p":27.1,"rr":0.94},{"n":"1500","p":28.1,"rr":1.14},{"n":"1500","p":29.1,"rr":0.90},{"n":"1500","p":30.0,"rr":1.01},
      {"n":"4000","p":25.6,"rr":1.05},{"n":"4000","p":26.6,"rr":0.87},{"n":"4000","p":27.5,"rr":1.08},{"n":"4000","p":28.5,"rr":0.99},{"n":"4000","p":29.5,"rr":1.09},
      {"n":"1500","p":31.0,"rr":0.96},{"n":"1500","p":32.0,"rr":1.18},{"n":"1500","p":33.0,"rr":0.83},{"n":"1500","p":34.0,"rr":1.03},{"n":"1500","p":34.9,"rr":0.90},
      {"n":"4000","p":30.5,"rr":0.92},{"n":"4000","p":31.5,"rr":1.03},{"n":"4000","p":32.4,"rr":0.98},{"n":"4000","p":33.4,"rr":1.13},{"n":"4000","p":34.4,"rr":0.87},
      {"n":"1500","p":35.9,"rr":0.99},{"n":"1500","p":36.9,"rr":1.10},{"n":"1500","p":37.9,"rr":0.85},{"n":"1500","p":38.9,"rr":1.04},{"n":"1500","p":39.8,"rr":0.92},
      {"n":"4000","p":35.4,"rr":1.04},{"n":"4000","p":36.4,"rr":0.94},{"n":"4000","p":37.3,"rr":0.99},{"n":"4000","p":38.3,"rr":0.81},{"n":"4000","p":39.3,"rr":1.07},
      {"n":"1500","p":40.8,"rr":1.06},{"n":"1500","p":41.8,"rr":0.73},{"n":"1500","p":42.8,"rr":0.99},{"n":"1500","p":43.8,"rr":0.99},{"n":"1500","p":44.7,"rr":0.84},
      {"n":"4000","p":40.3,"rr":0.90},{"n":"4000","p":41.3,"rr":1.01},{"n":"4000","p":42.2,"rr":0.94},{"n":"4000","p":43.2,"rr":1.04},{"n":"4000","p":44.2,"rr":0.87},
      {"n":"1500","p":45.7,"rr":1.03},{"n":"1500","p":46.7,"rr":0.91},{"n":"1500","p":47.7,"rr":1.10},{"n":"1500","p":48.7,"rr":0.85},{"n":"1500","p":49.6,"rr":0.95},
      {"n":"4000","p":45.2,"rr":0.95},{"n":"4000","p":46.2,"rr":1.08},{"n":"4000","p":47.1,"rr":0.89},{"n":"4000","p":48.1,"rr":0.97},{"n":"4000","p":49.1,"rr":0.84},
      {"n":"1500","p":50.6,"rr":1.15},{"n":"1500","p":51.6,"rr":0.88},{"n":"1500","p":52.6,"rr":0.98},{"n":"1500","p":53.6,"rr":0.76},{"n":"1500","p":54.5,"rr":1.02},
      {"n":"4000","p":50.1,"rr":1.01},{"n":"4000","p":51.1,"rr":0.93},{"n":"4000","p":52.0,"rr":1.13},{"n":"4000","p":53.0,"rr":0.89},{"n":"4000","p":54.0,"rr":0.97},
      {"n":"1500","p":55.5,"rr":0.90},{"n":"1500","p":56.5,"rr":1.03},{"n":"1500","p":57.5,"rr":0.82},{"n":"1500","p":58.5,"rr":0.96},{"n":"1500","p":59.4,"rr":0.90},
      {"n":"4000","p":55.0,"rr":0.77},{"n":"4000","p":56.0,"rr":1.02},{"n":"4000","p":56.9,"rr":0.90},{"n":"4000","p":57.9,"rr":0.98},{"n":"4000","p":58.9,"rr":0.86},
      {"n":"1500","p":60.4,"rr":1.09},{"n":"1500","p":61.4,"rr":0.77},{"n":"1500","p":62.4,"rr":0.97},{"n":"1500","p":63.4,"rr":0.85},{"n":"1500","p":64.3,"rr":0.92},
      {"n":"4000","p":59.9,"rr":1.02},{"n":"4000","p":60.9,"rr":0.82},{"n":"4000","p":61.8,"rr":0.92},{"n":"4000","p":62.8,"rr":0.87},{"n":"4000","p":63.8,"rr":1.05},
      {"n":"1500","p":65.3,"rr":0.70},{"n":"1500","p":66.3,"rr":1.02},{"n":"1500","p":67.3,"rr":0.81},{"n":"1500","p":68.3,"rr":0.95},{"n":"1500","p":69.2,"rr":0.85},
      {"n":"4000","p":64.8,"rr":0.77},{"n":"4000","p":65.8,"rr":0.93},{"n":"4000","p":66.7,"rr":0.82},{"n":"4000","p":67.7,"rr":0.89},{"n":"4000","p":68.7,"rr":0.99},
      {"n":"1500","p":70.2,"rr":0.98},{"n":"1500","p":71.2,"rr":0.77},{"n":"1500","p":72.2,"rr":0.88},{"n":"1500","p":73.2,"rr":1.03},{"n":"1500","p":74.1,"rr":0.80},
      {"n":"4000","p":69.7,"rr":0.78},{"n":"4000","p":70.7,"rr":0.93},{"n":"4000","p":71.6,"rr":0.83},{"n":"4000","p":72.6,"rr":0.95},{"n":"4000","p":73.6,"rr":0.69},
      {"n":"1500","p":75.1,"rr":0.90},{"n":"1500","p":76.1,"rr":0.73},{"n":"1500","p":77.1,"rr":0.95},{"n":"1500","p":78.1,"rr":0.84},{"n":"1500","p":79.0,"rr":1.10},
      {"n":"4000","p":74.6,"rr":0.89},{"n":"4000","p":75.6,"rr":0.89},{"n":"4000","p":76.5,"rr":0.77},{"n":"4000","p":77.5,"rr":0.92},{"n":"4000","p":78.5,"rr":0.83},
      {"n":"1500","p":80.0,"rr":0.81},{"n":"1500","p":81.0,"rr":0.91},{"n":"1500","p":82.0,"rr":0.66},{"n":"1500","p":83.0,"rr":0.96},{"n":"1500","p":83.9,"rr":0.82},
      {"n":"4000","p":79.5,"rr":0.97},{"n":"4000","p":80.5,"rr":0.78},{"n":"4000","p":81.4,"rr":0.86},{"n":"4000","p":82.4,"rr":1.01},{"n":"4000","p":83.4,"rr":0.80},
      {"n":"1500","p":84.9,"rr":0.91},{"n":"1500","p":85.9,"rr":0.77},{"n":"1500","p":86.9,"rr":0.97},{"n":"1500","p":87.9,"rr":0.73},{"n":"1500","p":88.8,"rr":0.84},
      {"n":"4000","p":84.4,"rr":0.88},{"n":"4000","p":85.4,"rr":0.70},{"n":"4000","p":86.3,"rr":0.91},{"n":"4000","p":87.3,"rr":0.82},{"n":"4000","p":88.3,"rr":0.92},
      {"n":"1500","p":89.8,"rr":0.79},{"n":"1500","p":90.8,"rr":1.01},{"n":"1500","p":91.8,"rr":0.66},{"n":"1500","p":92.8,"rr":0.86},{"n":"1500","p":93.7,"rr":0.73},
      {"n":"4000","p":89.3,"rr":0.75},{"n":"4000","p":90.3,"rr":0.86},{"n":"4000","p":91.2,"rr":0.81},{"n":"4000","p":92.2,"rr":0.96},{"n":"4000","p":93.2,"rr":0.70},
      {"n":"1500","p":94.7,"rr":0.82},{"n":"1500","p":95.7,"rr":0.93},{"n":"1500","p":96.7,"rr":0.68},{"n":"1500","p":97.7,"rr":0.87},{"n":"1500","p":98.6,"rr":0.74},
      {"n":"4000","p":94.2,"rr":0.87},{"n":"4000","p":95.2,"rr":0.77},{"n":"4000","p":96.1,"rr":0.82},{"n":"4000","p":97.1,"rr":0.64},{"n":"4000","p":98.1,"rr":0.90}
    ]
  }
}
